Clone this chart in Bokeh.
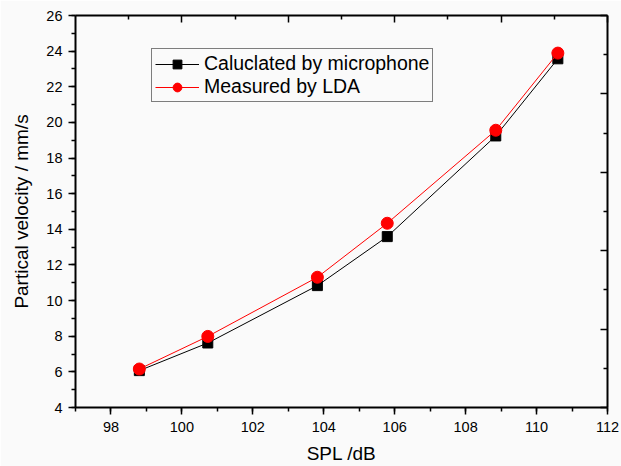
from bokeh.plotting import figure
from bokeh.models import (Range1d, LinearAxis, FixedTicker, SingleIntervalTicker,
                          Legend, LegendItem, ColumnDataSource)
from bokeh.embed import file_html
from bokeh.resources import INLINE

# ---- data ----
spl = [98.8, 100.73, 103.82, 105.79, 108.85, 110.6]
calc_mic = [6.07, 7.62, 10.84, 13.59, 19.24, 23.57]
meas_lda = [6.16, 7.99, 11.31, 14.34, 19.56, 23.89]

x_ticks = [98, 100, 102, 104, 106, 108, 110, 112]
y_ticks = [4, 6, 8, 10, 12, 14, 16, 18, 20, 22, 24, 26]
top_major = [100, 103, 106, 109, 112]
top_minor = [98.5, 101.5, 104.5, 107.5, 110.5]
right_major = [4, 8.4, 12.8, 17.2, 21.6, 26]
right_minor = [6.2, 10.6, 15.0, 19.4, 23.8]

FONT = "Liberation Sans"
BG = "#fafafa"

p = figure(width=621, height=466, output_backend="svg", toolbar_location=None,
           x_range=Range1d(97, 112), y_range=Range1d(4, 26),
           min_border_left=75, min_border_right=14, min_border_top=15,
           min_border_bottom=58)
p.background_fill_color = BG
p.border_fill_color = BG
p.outline_line_color = None
p.xgrid.visible = False
p.ygrid.visible = False

xa = p.xaxis[0]
xa.ticker = SingleIntervalTicker(interval=2, num_minor_ticks=2)
xa.axis_label = "SPL /dB"
ya = p.yaxis[0]
ya.ticker = SingleIntervalTicker(interval=2, num_minor_ticks=2)
ya.axis_label = "Partical velocity / mm/s"
for ax in (xa, ya):
    ax.axis_line_width = 2
    ax.axis_line_color = "black"
    ax.major_tick_line_width = 1.5
    ax.minor_tick_line_width = 1.5
    ax.major_tick_out = 7
    ax.major_tick_in = 0
    ax.minor_tick_out = 4
    ax.minor_tick_in = 0
    ax.major_label_text_font = FONT
    ax.major_label_text_font_size = "14.5px"
    ax.major_label_text_color = "black"
    ax.axis_label_text_font = FONT
    ax.axis_label_text_font_size = "19px"
    ax.axis_label_text_font_style = "normal"
    ax.axis_label_text_color = "black"
xa.major_label_standoff = 7
xa.axis_label_standoff = 8
ya.major_label_standoff = 6
ya.axis_label_standoff = 11

# top and right axes (inward ticks, no labels)
top = LinearAxis(ticker=FixedTicker(ticks=top_major, minor_ticks=top_minor),
                 major_label_overrides={t: "" for t in top_major})
right = LinearAxis(ticker=FixedTicker(ticks=right_major, minor_ticks=right_minor),
                   major_label_overrides={t: "" for t in right_major})
for ax in (top, right):
    ax.axis_line_width = 2
    ax.axis_line_color = "black"
    ax.major_tick_line_width = 1.5
    ax.minor_tick_line_width = 1.5
    ax.major_tick_in = 7
    ax.major_tick_out = 0
    ax.minor_tick_in = 4
    ax.minor_tick_out = 0
    ax.major_label_standoff = 0
p.add_layout(top, "above")
p.add_layout(right, "right")

src = ColumnDataSource(dict(x=spl, a=calc_mic, b=meas_lda))
l1 = p.line("x", "a", source=src, line_color="black", line_width=1)
s1 = p.scatter("x", "a", source=src, marker="square", size=10,
               fill_color="black", line_color="black")
l2 = p.line("x", "b", source=src, line_color="red", line_width=1)
s2 = p.scatter("x", "b", source=src, marker="circle", size=12,
               fill_color="red", line_color="red")

legend = Legend(items=[
    LegendItem(label="Caluclated by microphone", renderers=[l1, s1]),
    LegendItem(label="Measured by LDA", renderers=[l2, s2]),
], location=(76, 305))
legend.margin = 0
legend.padding = 3
legend.spacing = 0
legend.glyph_width = 44
legend.glyph_height = 22
legend.label_height = 22
legend.label_standoff = 5
legend.label_text_font = FONT
legend.label_text_font_size = "19.5px"
legend.label_text_color = "black"
legend.border_line_color = "black"
legend.border_line_width = 1
legend.background_fill_color = BG
legend.background_fill_alpha = 1
p.add_layout(legend, "center")

open("out.html", "w").write(file_html(p, INLINE))
